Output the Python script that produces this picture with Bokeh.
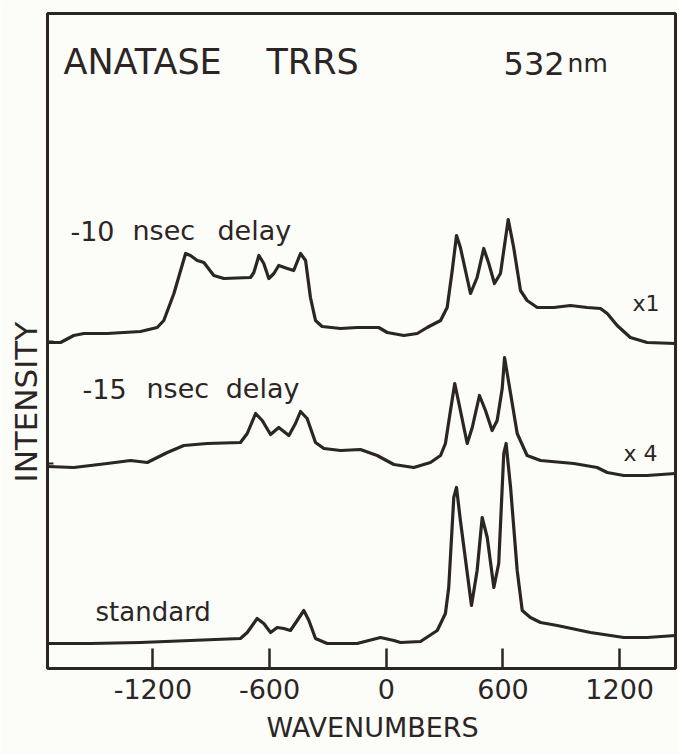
import math
from bokeh.plotting import figure
from bokeh.models import Range1d, FixedTicker, Label, Title
from bokeh.embed import file_html
from bokeh.resources import INLINE

# ---------------- data ----------------
# -10 nsec delay trace (x1)
wn_m10 = [-1742, -1675, -1607, -1555, -1435, -1264, -1178, -1144, -1092, -1032,
          -1007, -972, -938, -887, -835, -698, -681, -655, -630, -604,
          -578, -553, -509, -476, -441, -415, -390, -364, -330, -235,
          -150, -39, 5, 90, 159, 210, 279, 313, 339, 361,
          381, 433, 467, 501, 527, 556, 587, 627, 655, 690,
          724, 776, 861, 947, 1033, 1101, 1136, 1187, 1255, 1341, 1487]
int_m10 = [326, 326, 333, 335, 335, 337, 341, 348, 375, 415,
           413, 408, 406, 393, 390, 391, 396, 413, 405, 390,
           395, 403, 400, 398, 415, 408, 371, 348, 342, 340,
           341, 341, 336, 333, 335, 341, 348, 361, 398, 433,
           421, 375, 391, 420, 405, 385, 395, 449, 421, 378,
           368, 361, 361, 363, 361, 360, 355, 343, 331, 326, 325]

# -15 nsec delay trace (x4)
wn_m15 = [-1742, -1607, -1435, -1315, -1229, -1126, -1041, -921, -750, -715,
          -672, -638, -595, -553, -501, -467, -441, -407, -364, -321,
          -235, -133, -47, 39, 141, 227, 279, 304, 330, 352,
          381, 416, 442, 479, 510, 544, 570, 596, 608, 639,
          673, 724, 793, 964, 1084, 1136, 1221, 1341, 1487]
int_m15 = [202, 201, 205, 208, 206, 216, 223, 225, 226, 235,
           255, 248, 234, 241, 233, 245, 257, 250, 226, 220,
           218, 219, 213, 204, 201, 206, 213, 225, 258, 285,
           258, 225, 241, 273, 258, 238, 248, 280, 311, 275,
           235, 213, 208, 205, 201, 196, 193, 193, 195]

# standard trace
wn_std = [-1742, -1521, -1264, -1007, -750, -715, -664, -630, -595, -561,
          -527, -493, -458, -424, -398, -364, -304, -150, -30, 39,
          73, 176, 262, 304, 321, 347, 361, 381, 438, 467,
          493, 519, 553, 578, 604, 616, 639, 673, 699, 741,
          793, 879, 1050, 1221, 1341, 1487]
int_std = [25, 25, 26, 28, 30, 36, 50, 45, 36, 41,
           40, 38, 48, 58, 48, 30, 25, 25, 31, 28,
           26, 27, 38, 55, 81, 171, 181, 148, 63, 98,
           151, 131, 81, 105, 215, 225, 181, 98, 58, 51,
           46, 43, 36, 31, 31, 33]

x_ticks = [-1200, -600, 0, 600, 1200]
tick_labels = ["-1200", "-600", "0", "600", "1200"]
baseline_marks = [327, 205]

# ---------------- styling ----------------
INK = "#2b2525"
BG = "#fcfcf8"
FONT = "DejaVu Sans"
X0, X1 = -1742, 1487

p = figure(width=679, height=754,
           x_range=Range1d(X0, X1), y_range=Range1d(0, 655),
           output_backend="svg", toolbar_location=None,
           min_border_left=47, min_border_right=4,
           min_border_top=13, min_border_bottom=86,
           background_fill_color=BG, border_fill_color=BG)

p.grid.visible = False
p.outline_line_color = INK
p.outline_line_width = 3

for xs, ys in ((wn_m10, int_m10), (wn_m15, int_m15), (wn_std, int_std)):
    p.line(xs, ys, line_color=INK, line_width=3.2, line_join="round", line_cap="round")

# small baseline marks on the left frame edge
p.ray(x=[X0] * len(baseline_marks), y=baseline_marks, length=6,
      length_units="screen", angle=0, line_color=INK, line_width=2)

# x axis
xa = p.xaxis[0]
xa.ticker = FixedTicker(ticks=x_ticks)
xa.major_label_overrides = {t: s for t, s in zip(x_ticks, tick_labels)}
xa.axis_line_color = None
xa.major_tick_in = 20
xa.major_tick_out = 0
xa.major_tick_line_width = 2.5
xa.major_tick_line_color = INK
xa.minor_tick_line_color = None
xa.major_label_text_font = FONT
xa.major_label_text_font_size = "27px"
xa.major_label_text_color = INK
xa.major_label_standoff = 10

p.yaxis.visible = False

# axis titles
p.add_layout(Title(text="INTENSITY", align="left", offset=186, standoff=8,
                   text_font=FONT, text_font_size="31px", text_font_style="normal",
                   text_color=INK), "left")
p.add_layout(Title(text="WAVENUMBERS", align="left", offset=219, standoff=16,
                   text_font=FONT, text_font_size="27px", text_font_style="normal",
                   text_color=INK), "below")

def lab(x, y, text, size):
    p.add_layout(Label(x=x, y=y, text=text, text_font=FONT,
                       text_font_size=size, text_color=INK,
                       text_align="left", text_baseline="alphabetic"))

lab(-1660, 607, "ANATASE", "35px")
lab(-616, 607, "TRRS", "35px")
lab(603, 605, "532", "32px")
lab(932, 605, "nm", "25px")

lab(-1624, 438, "-10", "27px")
lab(-1305, 438, "nsec", "27px")
lab(-868, 438, "delay", "27px")

lab(-1562, 280, "-15", "27px")
lab(-1233, 280, "nsec", "27px")
lab(-826, 280, "delay", "27px")

lab(-1495, 57, "standard", "26px")
lab(1266, 365, "x1", "22px")
lab(1219, 215, "x 4", "22px")

open("out.html", "w").write(file_html(p, INLINE))
